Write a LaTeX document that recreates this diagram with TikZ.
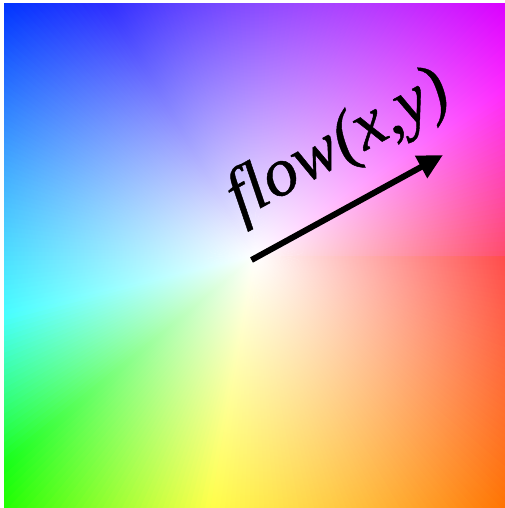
\documentclass[tikz,border=0pt]{standalone}
\usepackage{fontspec}
\usetikzlibrary{arrows.meta}
\font\flowfont="Liberation Serif/I:-liga;embolden=0.6" at 69pt
\pgfdeclareradialshading{wshade}{\pgfpointorigin}{color(0bp)=(white); color(25bp)=(black); color(50bp)=(black)}
\pgfdeclarefading{wfade}{\pgfuseshading{wshade}}
\tikzset{
  flowlabel/.style={rotate=28.7, font=\flowfont, inner sep=0pt},
  flowarrow/.style={line width=6pt, -{Triangle[length=25pt,width=24pt]}}
}
\def\WR{{255,255,255,255,255,255,255,255,255,255,255,255,255,255,255,255,213,170,128,85,43,0,0,0,0,0,0,0,0,0,0,0,0,0,0,0,0,19,39,58,78,98,117,137,156,176,196,215,235,255,255,255,255,255,255}}
\def\WG{{0,17,34,51,68,85,102,119,136,153,170,187,204,221,238,255,255,255,255,255,255,255,255,255,255,255,232,209,186,163,140,116,93,70,47,24,0,0,0,0,0,0,0,0,0,0,0,0,0,0,0,0,0,0,0}}
\def\WB{{0,0,0,0,0,0,0,0,0,0,0,0,0,0,0,0,0,0,0,0,0,0,63,127,191,255,255,255,255,255,255,255,255,255,255,255,255,255,255,255,255,255,255,255,255,255,255,255,255,255,213,170,128,85,43}}
\begin{document}
\begin{tikzpicture}[x=1pt,y=-1pt]
\useasboundingbox (0,0) rectangle (505,508);
\begin{scope}
  \clip (4,4) rectangle (505,508);
  \begin{scope}[shift={(254.5,256)}]
    \foreach \k in {0,...,53}{
      \foreach \s in {0,...,5}{
        \pgfmathtruncatemacro\kk{\k+1}
        \pgfmathsetmacro\ff{(\s+0.5)/6}
        \pgfmathsetmacro\colR{((1-\ff)*\WR[\k]+\ff*\WR[\kk])/255}
        \pgfmathsetmacro\colG{((1-\ff)*\WG[\k]+\ff*\WG[\kk])/255}
        \pgfmathsetmacro\colB{((1-\ff)*\WB[\k]+\ff*\WB[\kk])/255}
        \definecolor{wc}{rgb}{\colR,\colG,\colB}
        \pgfmathsetmacro\aA{(\k+\s/6)/0.15}
        \pgfmathsetmacro\aB{min((\k+(\s+1)/6)/0.15+0.5,360)}
        \fill[wc] (0,0) -- (\aA:420) -- (\aB:420) -- cycle;
      }
    }
    \fill[white, path fading=wfade, fit fading=true] (0,0) circle (355);
  \end{scope}
\end{scope}
\node[flowlabel] (lbl) at (339,146) {flow(x,y)};
\coordinate (a0) at (251.5,260);
\coordinate (a1) at (443,155);
\draw[flowarrow] (a0) -- (a1);
\end{tikzpicture}
\end{document}
